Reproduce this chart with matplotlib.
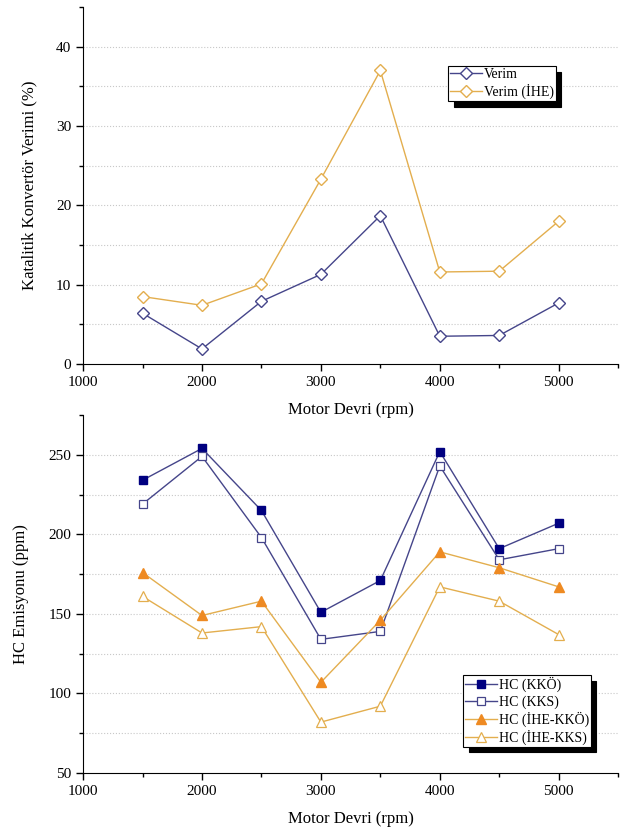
import numpy as np
import matplotlib.pyplot as plt
from matplotlib.ticker import MultipleLocator

plt.rcParams['font.family'] = ['Liberation Serif', 'DejaVu Serif']
plt.rcParams['font.size'] = 11

# motor devri
rpm = [1500, 2000, 2500, 3000, 3500, 4000, 4500, 5000]

# katalitik konvertor verimi (%)
verim = [6.4, 1.9, 7.9, 11.3, 18.7, 3.5, 3.6, 7.7]
verim_ihe = [8.5, 7.4, 10.1, 23.3, 37.0, 11.6, 11.7, 18.0]

# HC emisyonu (ppm)
hc_kko = [234, 254, 215, 151, 171, 252, 191, 207]
hc_kks = [219, 249, 198, 134, 139, 243, 184, 191]
hc_ihe_kko = [176, 149, 158, 107, 146, 189, 179, 167]
hc_ihe_kks = [161, 138, 142, 82, 92, 167, 158, 137]

navy = '#45458a'
gold = '#e3ae4e'
orange = '#ee8a22'

fig = plt.figure(figsize=(6.2, 8.33), dpi=100)
ax1 = fig.add_axes([0.134, 0.563, 0.863, 0.4286])
ax2 = fig.add_axes([0.134, 0.072, 0.863, 0.4298])
ax2.patch.set_visible(False)


def style(ax, ymin, ymax, step):
    for s in ['top', 'right']:
        ax.spines[s].set_visible(False)
    ax.set_xlim(1000, 5500)
    ax.set_ylim(ymin, ymax)
    ax.xaxis.set_major_locator(MultipleLocator(1000))
    ax.xaxis.set_minor_locator(MultipleLocator(500))
    ax.yaxis.set_major_locator(MultipleLocator(step))
    ax.yaxis.set_minor_locator(MultipleLocator(step / 2))
    ax.tick_params(which='major', direction='out', length=5, width=1)
    ax.tick_params(which='minor', direction='out', length=3, width=1)
    # noktali yatay izgara, ust sinirda cizgi yok
    for y in np.arange(ymin + step / 2, ymax - 1e-6, step / 2):
        ax.axhline(y, color='#c8c8c8', linestyle=':', linewidth=0.8, zorder=0)
    ax.set_xlabel('Motor Devri (rpm)', fontsize=12)
    ax.xaxis.set_label_coords(0.5, -0.105)


def legend(ax, loc):
    leg = ax.legend(loc='upper left', bbox_to_anchor=loc, fancybox=False,
                    shadow={'color': 'black', 'alpha': 1, 'ox': 4, 'oy': -4},
                    borderpad=0.15, labelspacing=0.2, handlelength=2.3,
                    handletextpad=0.1, borderaxespad=0, fontsize=10)
    leg.get_frame().set_edgecolor('black')
    leg.get_frame().set_linewidth(0.8)
    return leg


# ust grafik: verim
ax1.plot(rpm, verim, color=navy, lw=1.0, marker='D', ms=6,
         mfc='white', mec=navy, mew=1.0, label='Verim')
ax1.plot(rpm, verim_ihe, color=gold, lw=1.0, marker='D', ms=6,
         mfc='white', mec=gold, mew=1.0, label='Verim (İHE)')
style(ax1, 0, 45, 10)
ax1.set_ylabel('Katalitik Konvertör Verimi (%)', fontsize=12)
ax1.yaxis.set_label_coords(-0.086, 0.5)
legend(ax1, ((448 - 83) / 535, (364 - 66) / 357))

# alt grafik: HC emisyonu
ax2.plot(rpm, hc_kko, color=navy, lw=1.0, marker='s', ms=5.5,
         mfc='#000080', mec='#000080', label='HC (KKÖ)')
ax2.plot(rpm, hc_kks, color=navy, lw=1.0, marker='s', ms=5.5,
         mfc='white', mec=navy, mew=0.9, label='HC (KKS)')
ax2.plot(rpm, hc_ihe_kko, color=gold, lw=1.0, marker='^', ms=6.5,
         mfc=orange, mec=orange, label='HC (İHE-KKÖ)')
ax2.plot(rpm, hc_ihe_kks, color=gold, lw=1.0, marker='^', ms=6.5,
         mfc='white', mec=gold, mew=0.9, label='HC (İHE-KKS)')
style(ax2, 50, 275, 50)
ax2.set_ylabel('HC Emisyonu (ppm)', fontsize=12)
ax2.yaxis.set_label_coords(-0.101, 0.5)
legend(ax2, ((463 - 83) / 535, (773 - 675) / 358))

fig.savefig('out.png', dpi=100)
